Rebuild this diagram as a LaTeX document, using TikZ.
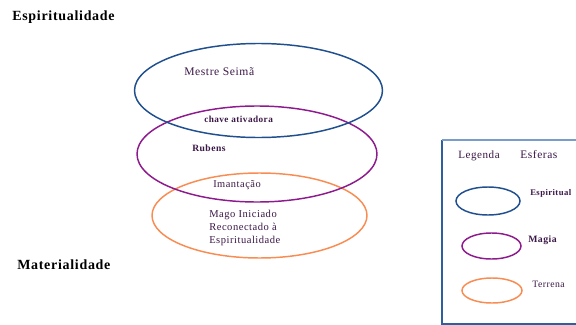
\documentclass[tikz,border=0pt]{standalone}
\usepackage{fontspec}
\setmainfont{Liberation Serif}
\newfontfamily\lsf[LetterSpace=5]{Liberation Serif}
\definecolor{sblue}{HTML}{1F4F8F}
\definecolor{spurple}{HTML}{8E1B8E}
\definecolor{sorange}{HTML}{F98C52}
\definecolor{plum}{HTML}{3C1848}
\definecolor{boxblue}{HTML}{2F5F9E}
\definecolor{boxtop}{HTML}{7A9CC8}
\begin{document}
\begin{tikzpicture}[x=0.75pt,y=-0.75pt,
  sphere/.style={line width=1.1pt},
  lab/.style={inner sep=0pt,anchor=base west,text=plum},
  title/.style={inner sep=0pt,anchor=base west,text=black,font=\lsf\bfseries\fontsize{10.5pt}{12pt}\selectfont}]
\useasboundingbox (0,0) rectangle (576,325);
\clip (0,0) rectangle (576,325);
\fill[white] (0,0) rectangle (576,325);
% titles
\node[title] (esp) at (12,20) {Espiritualidade};
\node[title] (mat) at (17,269) {Materialidade};
% main spheres
\draw[sphere,sorange] (259.5,215.5) ellipse [x radius=107.5, y radius=42.5];
\draw[sphere,spurple] (257,154) ellipse [x radius=120, y radius=48];
\draw[sphere,sblue] (258.5,90.5) ellipse [x radius=124, y radius=47];
% inner labels
\node[lab,font=\lsf\fontsize{8.7pt}{10pt}\selectfont] (mestre) at (184,75) {Mestre Seimã};
\node[lab,font=\lsf\bfseries\fontsize{6.9pt}{8pt}\selectfont] (chave) at (204,122) {chave ativadora};
\node[lab,font=\lsf\bfseries\fontsize{7.2pt}{8pt}\selectfont] (rub) at (192,151) {Rubens};
\node[lab,font=\lsf\fontsize{7.8pt}{9pt}\selectfont] (iman) at (213,187) {Imantação};
\node[lab,font=\lsf\fontsize{7.9pt}{9pt}\selectfont] (mago1) at (209,217) {Mago Iniciado};
\node[lab,font=\lsf\fontsize{7.9pt}{9pt}\selectfont] (mago2) at (209,230) {Reconectado à};
\node[lab,font=\lsf\fontsize{7.9pt}{9pt}\selectfont] (mago3) at (209,243) {Espiritualidade};
% legend box
\draw[boxblue,line width=0.9pt] (600,324) -- (442,324) -- (442,140);
\draw[boxtop,line width=0.9pt] (442,140) -- (600,140);
\node[lab,font=\lsf\fontsize{8.3pt}{10pt}\selectfont] (leg) at (458,158) {Legenda};
\node[lab,font=\lsf\fontsize{8.6pt}{10pt}\selectfont] (esf) at (520,158) {Esferas};
\draw[sphere,sblue] (488,201) ellipse [x radius=32, y radius=14];
\draw[sphere,spurple] (491.5,246) ellipse [x radius=29.5, y radius=13];
\draw[sphere,sorange] (492,290.5) ellipse [x radius=30, y radius=12.5];
\node[lab,font=\lsf\bfseries\fontsize{6.5pt}{8pt}\selectfont] (l1) at (530,195) {Espiritual};
\node[lab,font=\lsf\bfseries\fontsize{7.3pt}{8pt}\selectfont] (l2) at (528,242) {Magia};
\node[lab,font=\lsf\fontsize{7.3pt}{8pt}\selectfont] (l3) at (532,287) {Terrena};
\end{tikzpicture}
\end{document}
